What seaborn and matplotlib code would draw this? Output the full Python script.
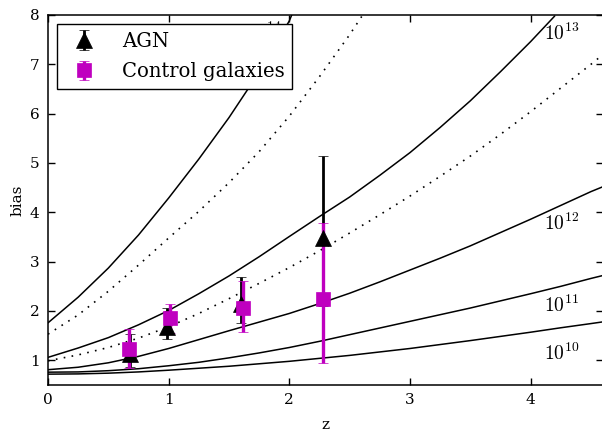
import matplotlib
matplotlib.use("Agg")
import matplotlib.pyplot as plt
import seaborn as sns
import pandas as pd

# ---- data ----
# model bias curves, one per halo mass
z_grid = [0, 0.25, 0.5, 0.75, 1, 1.25, 1.5, 1.75, 2, 2.25, 2.5, 2.75,
          3, 3.25, 3.5, 3.75, 4, 4.25, 4.5, 4.6]
b_1e10 = [0.72, 0.725, 0.74, 0.765, 0.80, 0.84, 0.88, 0.93, 0.98, 1.04,
          1.10, 1.17, 1.24, 1.32, 1.40, 1.485, 1.57, 1.66, 1.745, 1.78]
b_1e11 = [0.76, 0.765, 0.79, 0.83, 0.89, 0.96, 1.05, 1.15, 1.26, 1.385,
          1.52, 1.655, 1.79, 1.925, 2.06, 2.205, 2.35, 2.50, 2.66, 2.72]
b_1e12 = [0.81, 0.86, 0.95, 1.08, 1.24, 1.42, 1.60, 1.775, 1.95, 2.15,
          2.36, 2.59, 2.83, 3.07, 3.32, 3.59, 3.86, 4.14, 4.42, 4.52]
b_1e12_5 = [0.99, 1.11, 1.26, 1.45, 1.68, 1.95, 2.25, 2.56, 2.88, 3.22,
            3.58, 3.95, 4.33, 4.73, 5.14, 5.58, 6.04, 6.52, 7.00, 7.20]

z_1e13 = [0, 0.25, 0.5, 0.75, 1, 1.25, 1.5, 1.75, 2, 2.25, 2.5, 2.75,
          3, 3.25, 3.5, 3.75, 4, 4.2]
b_1e13 = [1.06, 1.25, 1.46, 1.72, 2.01, 2.35, 2.71, 3.10, 3.51, 3.915,
          4.31, 4.75, 5.21, 5.72, 6.26, 6.85, 7.46, 7.98]

z_1e13_5 = [0, 0.25, 0.5, 0.75, 1, 1.25, 1.5, 1.75, 2, 2.25, 2.5, 2.6]
b_1e13_5 = [1.53, 1.92, 2.40, 2.93, 3.48, 4.02, 4.60, 5.23, 5.95, 6.75,
            7.60, 7.97]

z_1e14 = [0, 0.25, 0.5, 0.75, 1, 1.25, 1.5, 1.75, 2.0, 2.02]
b_1e14 = [1.76, 2.28, 2.87, 3.54, 4.29, 5.08, 5.92, 6.84, 7.88, 8.0]

# curve labels
label_texts = [r"$10^{10}$", r"$10^{11}$", r"$10^{12}$", r"$10^{13}$", r"$10^{14}$"]
label_z = [4.11, 4.11, 4.11, 4.11, 1.64]
label_b = [1.01, 1.98, 3.64, 7.49, 7.52]

# measurements
agn_z = [0.68, 0.985, 1.596, 2.281]
agn_b = [1.13, 1.68, 2.15, 3.47]
agn_lo = [0.27, 0.25, 0.40, 1.37]
agn_hi = [0.40, 0.38, 0.53, 1.67]

ctl_z = [0.67, 1.01, 1.618, 2.28]
ctl_b = [1.23, 1.85, 2.07, 2.24]
ctl_lo = [0.38, 0.30, 0.49, 1.29]
ctl_hi = [0.40, 0.29, 0.54, 1.55]

x_ticks = [0, 1, 2, 3, 4]
y_ticks = [1, 2, 3, 4, 5, 6, 7, 8]

# ---- style ----
sns.set_style("ticks")
plt.rcParams["font.family"] = ["DejaVu Serif"]
plt.rcParams["mathtext.fontset"] = "cm"
for key in ["text.color", "axes.labelcolor", "xtick.color", "ytick.color",
            "axes.edgecolor"]:
    plt.rcParams[key] = "black"

W, H = 602, 432
fig = plt.figure(figsize=(W / 100, H / 100), dpi=100)
ax = fig.add_axes([48 / W, 47 / H, 555 / W, 370 / H])

solid_curves = [(z_grid, b_1e10), (z_grid, b_1e11), (z_grid, b_1e12),
                (z_1e13, b_1e13), (z_1e14, b_1e14)]
dotted_curves = [(z_grid, b_1e12_5), (z_1e13_5, b_1e13_5)]

for zz, bb in solid_curves:
    df = pd.DataFrame({"z": zz, "b": bb})
    sns.lineplot(data=df, x="z", y="b", ax=ax, color="black", lw=1.1,
                 errorbar=None, sort=True, zorder=1.5)
for zz, bb in dotted_curves:
    df = pd.DataFrame({"z": zz, "b": bb})
    sns.lineplot(data=df, x="z", y="b", ax=ax, color="black", lw=1.2,
                 linestyle=(0, (1, 3.8)), errorbar=None, sort=True, zorder=1.5)

for t, zx, by in zip(label_texts, label_z, label_b):
    ax.text(zx, by, t, fontsize=14, ha="left", va="baseline", color="black", zorder=3)

magenta = "#bf00bf"
ax.errorbar(agn_z, agn_b, yerr=[agn_lo, agn_hi], fmt="^", color="black",
            ms=12, mec="black", mew=0.5, elinewidth=2, capsize=3.5, capthick=1.8,
            label="AGN")
ax.errorbar(ctl_z, ctl_b, yerr=[ctl_lo, ctl_hi], fmt="s", color=magenta,
            ms=9.5, mec=magenta, mew=0.5, elinewidth=2.4, capsize=3.5, capthick=1.8,
            label="Control galaxies")

ax.set_xlim(0, 4.6)
ax.set_ylim(0.5, 8)
ax.set_xticks(x_ticks)
ax.set_yticks(y_ticks)
ax.set_xlabel("z", fontsize=11, labelpad=8, color="black")
ax.set_ylabel("bias", fontsize=11, color="black")
ax.tick_params(direction="in", top=True, right=True, length=5, width=1,
               labelsize=11, pad=6, colors="black")
for s in ax.spines.values():
    s.set_linewidth(1.1)
    s.set_color("black")

leg = ax.legend(loc="upper left", bbox_to_anchor=(9 / 555, 1 - 9 / 370),
                borderaxespad=0, numpoints=1, fancybox=False, framealpha=1,
                edgecolor="black", fontsize=14.1, handletextpad=0.9,
                borderpad=0.4, labelspacing=0.58)
leg.get_frame().set_linewidth(1.0)
leg.set_zorder(5)
for txt in leg.get_texts():
    txt.set_color("black")

fig.savefig("out.png", dpi=100)
